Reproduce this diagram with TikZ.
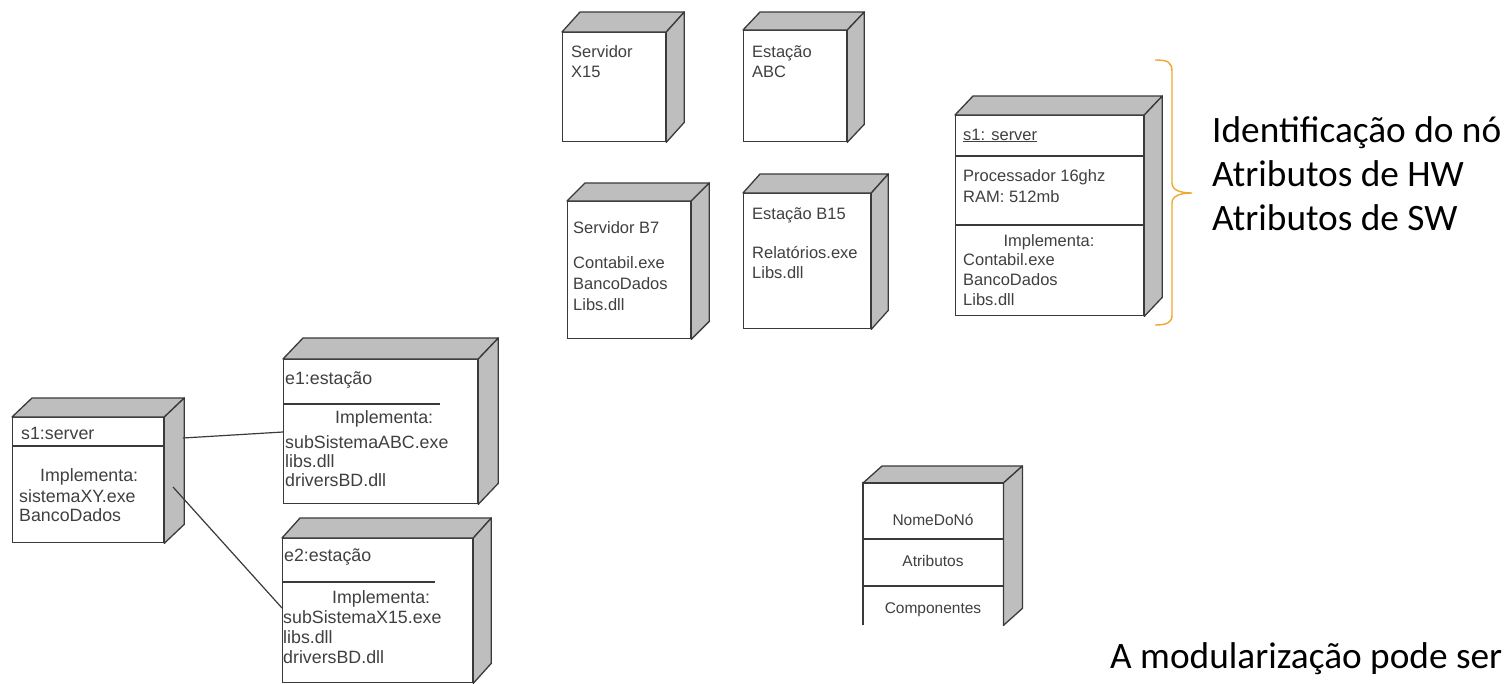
\documentclass[tikz,border=0pt]{standalone}
\usepackage{fontspec}
\setmainfont{Carlito}
\newfontfamily\arialf{Liberation Sans}
\definecolor{edge}{HTML}{3A3A3A}
\definecolor{face}{HTML}{BEBEBE}
\definecolor{ntext}{HTML}{404040}
\definecolor{bracecol}{HTML}{F0A830}
\tikzset{
  front/.style={draw=edge, line width=1.3pt, fill=white, inner sep=0pt, anchor=north west},
  faceside/.style={fill=face, draw=edge, line width=1.3pt, line join=round},
  divider/.style={draw=edge, line width=1.1pt},
  ntxt/.style={font=\arialf\fontsize{16.5}{20}\selectfont, text=ntext, inner sep=0pt, align=left, anchor=base west},
  btxt/.style={font=\arialf\fontsize{17.8}{19}\selectfont, text=ntext, inner sep=0pt, align=left, anchor=base west},
  stxt/.style={font=\arialf\fontsize{15.5}{18}\selectfont, text=ntext, inner sep=0pt, anchor=base},
  bigtxt/.style={font=\fontsize{37.3}{44}\selectfont, text=black, inner sep=0pt, align=left, anchor=base west},
  conn/.style={draw=edge, line width=1.2pt},
}
% name, x, y, width, height, dx, dy
\newcommand\cubebox[7]{%
  \node[front, minimum width=#4pt, minimum height=#5pt] (#1) at (#2,#3) {};
  \filldraw[faceside] (#1.north west) -- ++(#6,-#7) -- ([shift={(#6,-#7)}]#1.north east) -- (#1.north east) -- cycle;
  \filldraw[faceside] (#1.north east) -- ++(#6,-#7) -- ([shift={(#6,-#7)}]#1.south east) -- (#1.south east) -- cycle;
}
\begin{document}
\begin{tikzpicture}[x=1pt, y=-1pt]
\useasboundingbox (0,0) rectangle (1509,683);
\fill[white] (0,0) rectangle (1509,683);

% ---- top group ----
\cubebox{sx15}{562}{32}{103}{109}{18}{20}
\node[ntxt] (sx15t) at (571,77) {Servidor\\X15};

\cubebox{eabc}{743}{30}{103}{111}{17}{18}
\node[ntxt] (eabct) at (752,77) {Estação\\ABC};

\cubebox{sb7}{567}{201}{123}{137}{18}{18}
\node[ntxt] (sb7h) at (573,233) {Servidor B7};
\node[ntxt, font=\arialf\fontsize{16.5}{21}\selectfont] (sb7b) at (573,310) {Contabil.exe\\BancoDados\\Libs.dll};

\cubebox{eb15}{743}{193}{127}{135}{17}{19}
\node[ntxt] (eb15h) at (752,219) {Estação B15};
\node[ntxt] (eb15b) at (752,278) {Relatórios.exe\\Libs.dll};

% ---- right node ----
\cubebox{srv}{955}{115}{188}{200}{18}{19}
\draw[divider] (955,156) -- (1143,156);
\draw[divider] (955,225) -- (1143,225);
\node[ntxt] (srvh) at (963,140) {\underline{s1: server}};
\node[ntxt, font=\arialf\fontsize{16.5}{21}\selectfont] (srvhw) at (963,202) {Processador 16ghz\\RAM: 512mb};
\node[ntxt, anchor=base] (srvimp) at (1049,246) {Implementa:};
\node[ntxt] (srvsw) at (963,305) {Contabil.exe\\BancoDados\\Libs.dll};

% brace
\draw[bracecol, line width=1.4pt] (1155,60) .. controls (1168,60) and (1172,62) .. (1172,72)
  -- (1172,183) .. controls (1172,190) and (1180,193) .. (1192,193)
  .. controls (1180,193) and (1172,196) .. (1172,203)
  -- (1172,315) .. controls (1172,322) and (1168,325) .. (1155,325);

\node[bigtxt] (lab) at (1212,230) {Identificação do nó\\Atributos de HW\\Atributos de SW};

% ---- bottom left group ----
\cubebox{s1}{12}{417}{151}{125}{20}{19}
\draw[divider] (12,446) -- (163,446);
\node[btxt] (s1h) at (21,439) {s1:server};
\node[btxt] (s1imp) at (40,481) {Implementa:};
\node[btxt] (s1b) at (19,521) {sistemaXY.exe\\BancoDados};

\cubebox{e1}{283}{359}{194}{144}{20}{21}
\draw[divider] (283,404) -- (440,404);
\node[btxt] (e1h) at (285,384) {e1:estação};
\node[btxt] (e1imp) at (335,423) {Implementa:};
\node[btxt] (e1b) at (285,486) {subSistemaABC.exe\\libs.dll\\driversBD.dll};

\cubebox{e2}{282}{538}{190}{144}{18}{20}
\draw[divider] (282,582) -- (435,582);
\node[btxt] (e2h) at (284,561) {e2:estação};
\node[btxt] (e2imp) at (332,603) {Implementa:};
\node[btxt, font=\arialf\fontsize{17.8}{20}\selectfont] (e2b) at (283,663) {subSistemaX15.exe\\libs.dll\\driversBD.dll};

\coordinate (s1a) at (183,438);
\coordinate (s1b2) at (173,487);
\coordinate (e1a) at (283,432);
\coordinate (e2a) at (282,608);
\draw[conn] (s1a) -- (e1a);
\draw[conn] (s1b2) -- (e2a);

% ---- NomeDoNo node ----
\node[inner sep=0pt, minimum width=140pt, minimum height=142pt, anchor=north west] (nome) at (863,483) {};
\filldraw[faceside] (nome.north west) -- ++(19,-17) -- ([shift={(19,-17)}]nome.north east) -- (nome.north east) -- cycle;
\filldraw[faceside] (nome.north east) -- ++(19,-17) -- ([shift={(19,-17)}]nome.south east) -- (nome.south east) -- cycle;
\draw[edge, line width=1.3pt] (nome.south west) -- (nome.north west) -- (nome.north east) -- (nome.south east);
\draw[divider] (863,539) -- (1003,539);
\draw[divider] (863,586) -- (1003,586);
\node[stxt] (nomet) at (933,525) {NomeDoNó};
\node[stxt] (atrt) at (933,566) {Atributos};
\node[stxt] (compt) at (933,613) {Componentes};

\node[bigtxt] (modul) at (1110,668) {A modularização pode ser};
\end{tikzpicture}
\end{document}
